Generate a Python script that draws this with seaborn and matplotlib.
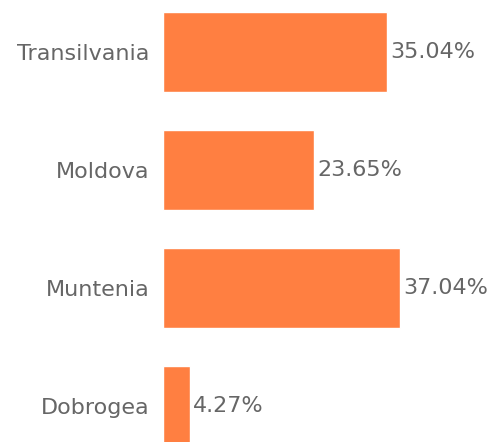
import matplotlib
matplotlib.use("Agg")
import matplotlib.pyplot as plt
import seaborn as sns
import pandas as pd

regions = ["Transilvania", "Moldova", "Muntenia", "Dobrogea"]
shares = [35.04, 23.65, 37.04, 4.27]
value_labels = ["35.04%", "23.65%", "37.04%", "4.27%"]

df = pd.DataFrame({"region": regions, "share": shares})

sns.set_style("white")
plt.rcParams["font.family"] = ["DejaVu Sans"]

fig = plt.figure(figsize=(4.93, 4.42), dpi=100)
ax = fig.add_axes([163 / 493, 0, 330 / 493, 1])

sns.barplot(data=df, x="share", y="region", orient="h", color="#FF7F41",
            saturation=1, width=0.68, ax=ax)

ax.bar_label(ax.containers[0], labels=value_labels, padding=2,
             fontsize=16, color="#666666")

ax.set_xlim(0, 330 / 6.4)
ax.set_ylim(3.305, -0.441)
ax.set_xlabel("")
ax.set_ylabel("")
ax.set_xticks([])
ax.tick_params(axis="y", length=0, pad=9.5, labelsize=16, labelcolor="#666666")
sns.despine(ax=ax, left=True, bottom=True)

fig.savefig("out.png", dpi=100)
